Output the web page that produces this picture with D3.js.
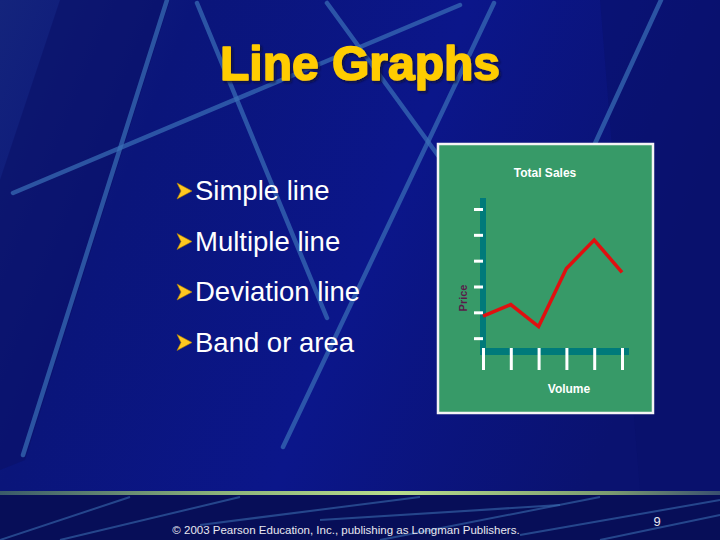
<!DOCTYPE html>
<html>
<head>
<meta charset="utf-8">
<script src="https://cdn.jsdelivr.net/npm/d3@7"></script>
<style>
  body { margin: 0; background: #0a1272; }
  svg { display: block; }
</style>
</head>
<body>
<div id="slide"></div>
<script>
// chart data
var volume = [1, 2, 3, 4, 5, 6];
var price = [1.85, 2.3, 1.45, 3.7, 4.8, 3.55];
var priceTicks = [1, 2, 3, 4, 5, 6];
var bullets = ["Simple line", "Multiple line", "Deviation line", "Band or area"];

var width = 720, height = 540;

var svg = d3.select('#slide')
    .append('svg')
    .attr('width', width)
    .attr('height', height);

var defs = svg.append('defs');

// background gradient
var bg = defs.append('linearGradient').attr('id', 'bg')
    .attr('x1', 0).attr('y1', 0).attr('x2', 1).attr('y2', 0.3);
bg.append('stop').attr('offset', '0%').attr('stop-color', '#14247c');
bg.append('stop').attr('offset', '25%').attr('stop-color', '#0a157a');
bg.append('stop').attr('offset', '60%').attr('stop-color', '#0b168a');
bg.append('stop').attr('offset', '100%').attr('stop-color', '#0a1270');

var bar = defs.append('linearGradient').attr('id', 'greenbar');
bar.append('stop').attr('offset', '0%').attr('stop-color', '#3a5a6a');
bar.append('stop').attr('offset', '30%').attr('stop-color', '#8ab07a');
bar.append('stop').attr('offset', '55%').attr('stop-color', '#b8dc8c');
bar.append('stop').attr('offset', '85%').attr('stop-color', '#7a9a70');
bar.append('stop').attr('offset', '100%').attr('stop-color', '#3a5070');

var shadow = defs.append('filter').attr('id', 'shadow')
    .attr('x', '-10%').attr('y', '-20%').attr('width', '120%').attr('height', '140%');
shadow.append('feDropShadow')
    .attr('dx', 2).attr('dy', 2).attr('stdDeviation', 0.8)
    .attr('flood-color', '#101030').attr('flood-opacity', 0.8);

svg.append('rect')
    .attr('width', width).attr('height', height)
    .attr('fill', 'url(#bg)');

// darker panels
svg.append('path')
    .attr('d', 'M60,0 L170,0 L25,460 L0,470 L0,180 Z')
    .attr('fill', '#0a1068').attr('opacity', 0.6);
svg.append('path')
    .attr('d', 'M600,0 L720,0 L720,490 L640,490 Z')
    .attr('fill', '#08106a').attr('opacity', 0.5);

// background streaks
var streaks = [
    [167, 0, 23, 455],
    [197, 3, 327, 318],
    [13, 193, 460, 5],
    [494, 3, 283, 447],
    [327, 3, 445, 165],
    [661, 0, 592, 150]
];
svg.selectAll('.streak')
    .data(streaks)
    .enter()
    .append('line')
    .classed('streak', true)
    .attr('x1', function(d){ return d[0]; })
    .attr('y1', function(d){ return d[1]; })
    .attr('x2', function(d){ return d[2]; })
    .attr('y2', function(d){ return d[3]; })
    .attr('stroke', '#3a70b8')
    .attr('stroke-width', 4.5)
    .attr('stroke-linecap', 'round')
    .attr('opacity', 0.7);

// footer
svg.append('rect')
    .attr('x', 0).attr('y', 495)
    .attr('width', width).attr('height', 45)
    .attr('fill', '#070e58');
var footStreaks = [
    [0, 540, 130, 497],
    [60, 540, 240, 497],
    [200, 525, 420, 497],
    [320, 520, 560, 505],
    [380, 540, 600, 497],
    [520, 535, 720, 500],
    [600, 540, 720, 515]
];
svg.selectAll('.fstreak')
    .data(footStreaks)
    .enter()
    .append('line')
    .classed('fstreak', true)
    .attr('x1', function(d){ return d[0]; })
    .attr('y1', function(d){ return d[1]; })
    .attr('x2', function(d){ return d[2]; })
    .attr('y2', function(d){ return d[3]; })
    .attr('stroke', '#3a6cb0')
    .attr('stroke-width', 2)
    .attr('opacity', 0.6);

svg.append('rect')
    .attr('x', 0).attr('y', 491)
    .attr('width', width).attr('height', 4)
    .attr('fill', 'url(#greenbar)');

svg.append('text')
    .attr('x', 346).attr('y', 534)
    .attr('text-anchor', 'middle')
    .attr('font-family', 'Liberation Sans, Arial, sans-serif')
    .attr('font-size', 11.5)
    .attr('fill', '#e8e8f0')
    .text('\u00a9 2003 Pearson Education, Inc., publishing as Longman Publishers.');

svg.append('text')
    .attr('x', 657).attr('y', 526)
    .attr('text-anchor', 'middle')
    .attr('font-family', 'Liberation Sans, Arial, sans-serif')
    .attr('font-size', 13)
    .attr('fill', '#e8e8f0')
    .text('9');

// title
svg.append('text')
    .attr('x', 360).attr('y', 80)
    .attr('text-anchor', 'middle')
    .attr('font-family', 'Liberation Sans, Arial, sans-serif')
    .attr('font-weight', 'bold')
    .attr('font-size', 48)
    .attr('fill', '#ffcc00')
    .attr('stroke', '#ffcc00')
    .attr('stroke-width', 1.6)
    .attr('stroke-linejoin', 'round')
    .attr('filter', 'url(#shadow)')
    .text('Line Graphs');

// bullet list
var list = svg.selectAll('.bullet')
    .data(bullets)
    .enter()
    .append('g')
    .classed('bullet', true)
    .attr('transform', function(d, i){ return 'translate(177,' + (200 + i * 50.5) + ')'; });

list.append('path')
    .attr('d', 'M0,-17 L15,-9 L0,-1 L4,-9 Z')
    .attr('fill', '#ffc820')
    .attr('stroke', '#b08000')
    .attr('stroke-width', 0.6);

list.append('text')
    .attr('x', 18)
    .attr('font-family', 'Liberation Sans, Arial, sans-serif')
    .attr('font-size', 27.5)
    .attr('fill', '#ffffff')
    .text(function(d){ return d; });

// chart panel
svg.append('rect')
    .attr('x', 438).attr('y', 144)
    .attr('width', 215).attr('height', 269)
    .attr('fill', '#379a68')
    .attr('stroke', '#f4f4f4')
    .attr('stroke-width', 2.5);

svg.append('text')
    .attr('x', 545).attr('y', 177)
    .attr('text-anchor', 'middle')
    .attr('font-family', 'Liberation Sans, Arial, sans-serif')
    .attr('font-weight', 'bold')
    .attr('font-size', 12)
    .attr('fill', '#ffffff')
    .text('Total Sales');

var x_scale = d3.scaleLinear()
    .domain([1, 6])
    .range([483, 622]);

var y_scale = d3.scaleLinear()
    .domain([0, 6])
    .range([364, 209]);

// axis bars
svg.append('rect')
    .attr('x', 480).attr('y', 198)
    .attr('width', 6).attr('height', 157)
    .attr('fill', '#007a7a');
svg.append('rect')
    .attr('x', 480).attr('y', 348)
    .attr('width', 149).attr('height', 7)
    .attr('fill', '#007a7a');

var y_axis = d3.axisLeft(y_scale)
    .tickValues(priceTicks)
    .tickSize(9)
    .tickFormat('');
var yG = svg.append('g')
    .attr('transform', 'translate(483,0)')
    .call(y_axis);

var x_axis = d3.axisBottom(x_scale)
    .tickValues(volume)
    .tickSize(22)
    .tickFormat('');
var xG = svg.append('g')
    .attr('transform', 'translate(0,348)')
    .call(x_axis);

[yG, xG].forEach(function(g){
    g.select('.domain').remove();
    g.selectAll('.tick line')
        .attr('stroke', '#ffffff')
        .attr('stroke-width', 3);
});

// the line
var line = d3.line()
    .x(function(d, i){ return x_scale(volume[i]); })
    .y(function(d){ return y_scale(d); });

svg.append('path')
    .datum(price)
    .attr('d', line)
    .attr('fill', 'none')
    .attr('stroke', '#e01010')
    .attr('stroke-width', 3.5)
    .attr('stroke-linejoin', 'miter');

// axis labels
svg.append('text')
    .attr('transform', 'translate(467,298) rotate(-90)')
    .attr('text-anchor', 'middle')
    .attr('font-family', 'Liberation Sans, Arial, sans-serif')
    .attr('font-weight', 'bold')
    .attr('font-size', 11)
    .attr('fill', '#5a1a4a')
    .text('Price');

svg.append('text')
    .attr('x', 569).attr('y', 393)
    .attr('text-anchor', 'middle')
    .attr('font-family', 'Liberation Sans, Arial, sans-serif')
    .attr('font-weight', 'bold')
    .attr('font-size', 12)
    .attr('fill', '#ffffff')
    .text('Volume');
</script>
</body>
</html>
